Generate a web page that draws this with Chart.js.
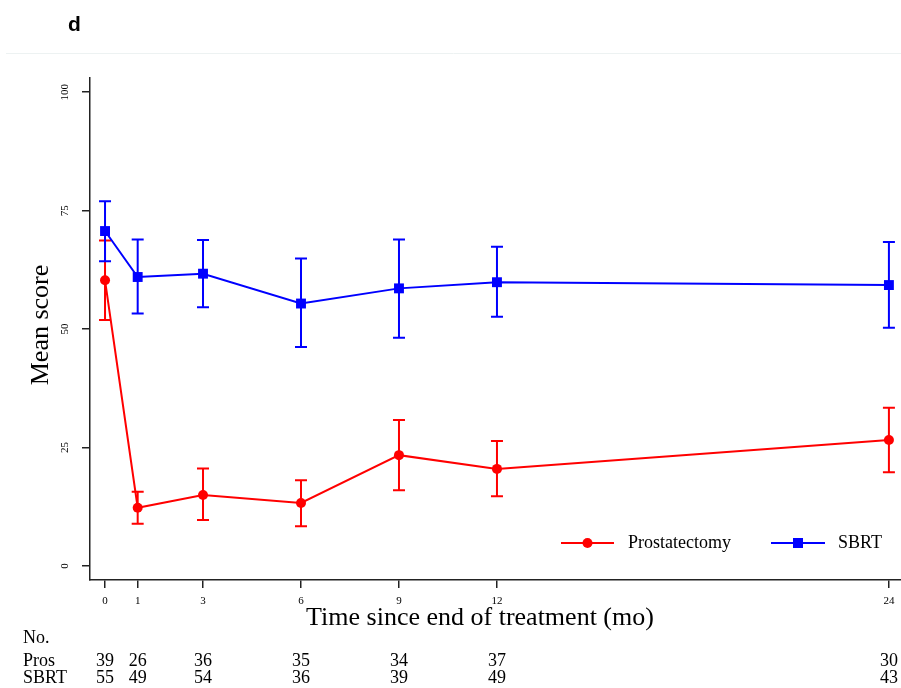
<!DOCTYPE html>
<html>
<head>
<meta charset="utf-8">
<script src="https://cdn.jsdelivr.net/npm/chart.js@4"></script>
<style>
html,body{margin:0;padding:0;background:#fff;}
</style>
</head>
<body>
<canvas id="myChart" width="901" height="688"></canvas>
<script>
// values (mean score with error bars)
const months = [0, 1, 3, 6, 9, 12, 24];
const prosMean = [60.3, 12.3, 15.0, 13.3, 23.4, 20.5, 26.6];
const prosLow = [51.9, 8.9, 9.7, 8.4, 16.0, 14.7, 19.8];
const prosHigh = [68.7, 15.7, 20.6, 18.1, 30.8, 26.4, 33.4];
const sbrtMean = [70.7, 61.0, 61.7, 55.4, 58.6, 59.9, 59.3];
const sbrtLow = [64.3, 53.3, 54.6, 46.2, 48.2, 52.6, 50.3];
const sbrtHigh = [77.0, 68.9, 68.8, 64.9, 68.9, 67.4, 68.4];
const yTicks = [0, 25, 50, 75, 100];
const prosN = [39, 26, 36, 35, 34, 37, 30];
const sbrtN = [55, 49, 54, 36, 39, 49, 43];

const serif = "'Liberation Serif', 'Times New Roman', serif";
const red = '#ff0000', blue = '#0000ff';

const errorBars = {
  id: 'errorBars',
  beforeDatasetDraw(chart, args) {
    const ds = chart.data.datasets[args.index];
    const x = chart.scales.x, y = chart.scales.y, ctx = chart.ctx;
    ctx.save();
    ctx.strokeStyle = ds.borderColor;
    ctx.lineWidth = 2;
    ds.data.forEach((p, i) => {
      const px = x.getPixelForValue(p.x);
      const lo = y.getPixelForValue(ds.low[i]);
      const hi = y.getPixelForValue(ds.high[i]);
      ctx.beginPath();
      ctx.moveTo(px, lo); ctx.lineTo(px, hi);
      ctx.moveTo(px - 6, lo); ctx.lineTo(px + 6, lo);
      ctx.moveTo(px - 6, hi); ctx.lineTo(px + 6, hi);
      ctx.stroke();
    });
    ctx.restore();
  }
};

const extras = {
  id: 'extras',
  afterDraw(chart) {
    const ctx = chart.ctx, x = chart.scales.x, y = chart.scales.y;
    ctx.save();
    // panel letter and faint rule
    ctx.fillStyle = '#000';
    ctx.font = "bold 21px 'Liberation Sans', Arial, sans-serif";
    ctx.textBaseline = 'alphabetic';
    ctx.fillText('d', 68, 31);
    ctx.strokeStyle = '#edf2f2';
    ctx.lineWidth = 1;
    ctx.beginPath(); ctx.moveTo(6, 53.5); ctx.lineTo(901, 53.5); ctx.stroke();

    // tick labels
    ctx.font = '11px ' + serif;
    ctx.textAlign = 'center';
    ctx.textBaseline = 'middle';
    yTicks.forEach(v => {
      ctx.save();
      ctx.translate(65.5, y.getPixelForValue(v));
      ctx.rotate(-Math.PI / 2);
      ctx.fillText(String(v), 0, 0);
      ctx.restore();
    });
    months.forEach(m => ctx.fillText(String(m), x.getPixelForValue(m), 601));

    // axis titles
    ctx.font = '26px ' + serif;
    ctx.save();
    ctx.translate(41, 325);
    ctx.rotate(-Math.PI / 2);
    ctx.fillText('Mean score', 0, 0);
    ctx.restore();
    ctx.fillText('Time since end of treatment (mo)', 480, 618);

    // numbers at risk
    ctx.font = '18px ' + serif;
    ctx.textAlign = 'left';
    ctx.fillText('No.', 23, 638);
    ctx.fillText('Pros', 23, 661);
    ctx.fillText('SBRT', 23, 678);
    ctx.textAlign = 'center';
    months.forEach((m, i) => {
      const px = x.getPixelForValue(m);
      ctx.fillText(String(prosN[i]), px, 661);
      ctx.fillText(String(sbrtN[i]), px, 678);
    });

    // legend
    const ly = 543;
    ctx.lineWidth = 2;
    ctx.strokeStyle = red;
    ctx.beginPath(); ctx.moveTo(561, ly); ctx.lineTo(614, ly); ctx.stroke();
    ctx.fillStyle = red;
    ctx.beginPath(); ctx.arc(587.5, ly, 5, 0, Math.PI * 2); ctx.fill();
    ctx.strokeStyle = blue;
    ctx.beginPath(); ctx.moveTo(771, ly); ctx.lineTo(825, ly); ctx.stroke();
    ctx.fillStyle = blue;
    ctx.fillRect(793, ly - 5, 10, 10);
    ctx.fillStyle = '#000';
    ctx.textAlign = 'left';
    ctx.fillText('Prostatectomy', 628, ly);
    ctx.fillText('SBRT', 838, ly);
    ctx.restore();
  }
};

const ctx = document.getElementById('myChart').getContext('2d');
const chart = new Chart(ctx, {
  type: 'line',
  data: {
    datasets: [{
      label: 'Prostatectomy',
      data: months.map((m, i) => ({x: m, y: prosMean[i]})),
      low: prosLow, high: prosHigh,
      borderColor: red, backgroundColor: red,
      pointStyle: 'circle', pointRadius: 5, pointBorderWidth: 0,
      borderWidth: 2, tension: 0, order: 1
    }, {
      label: 'SBRT',
      data: months.map((m, i) => ({x: m, y: sbrtMean[i]})),
      low: sbrtLow, high: sbrtHigh,
      borderColor: blue, backgroundColor: blue,
      pointStyle: 'rect', pointRadius: 7, pointBorderWidth: 0,
      borderWidth: 2, tension: 0, order: 0
    }]
  },
  options: {
    responsive: false,
    animation: false,
    layout: {autoPadding: false, padding: {top: 78, left: 0, right: 0, bottom: 0}},
    plugins: {legend: {display: false}, tooltip: {enabled: false}},
    scales: {
      x: {
        type: 'linear', min: -0.46, max: 24.37,
        afterBuildTicks: s => { s.ticks = months.map(v => ({value: v})); },
        afterFit: s => { s.height = 108; },
        ticks: {callback: () => '', maxRotation: 0, autoSkip: false},
        grid: {display: true, drawOnChartArea: false, drawTicks: true, tickLength: 8, color: '#222', lineWidth: 1.5},
        border: {display: true, color: '#222', width: 1.5}
      },
      y: {
        min: -2.95, max: 103,
        afterBuildTicks: s => { s.ticks = yTicks.map(v => ({value: v})); },
        afterFit: s => { s.width = 90; },
        ticks: {callback: () => ''},
        grid: {display: true, drawOnChartArea: false, drawTicks: true, tickLength: 8, color: '#222', lineWidth: 1.5},
        border: {display: true, color: '#222', width: 1.5}
      }
    }
  },
  plugins: [errorBars, extras]
});
</script>
</body>
</html>
